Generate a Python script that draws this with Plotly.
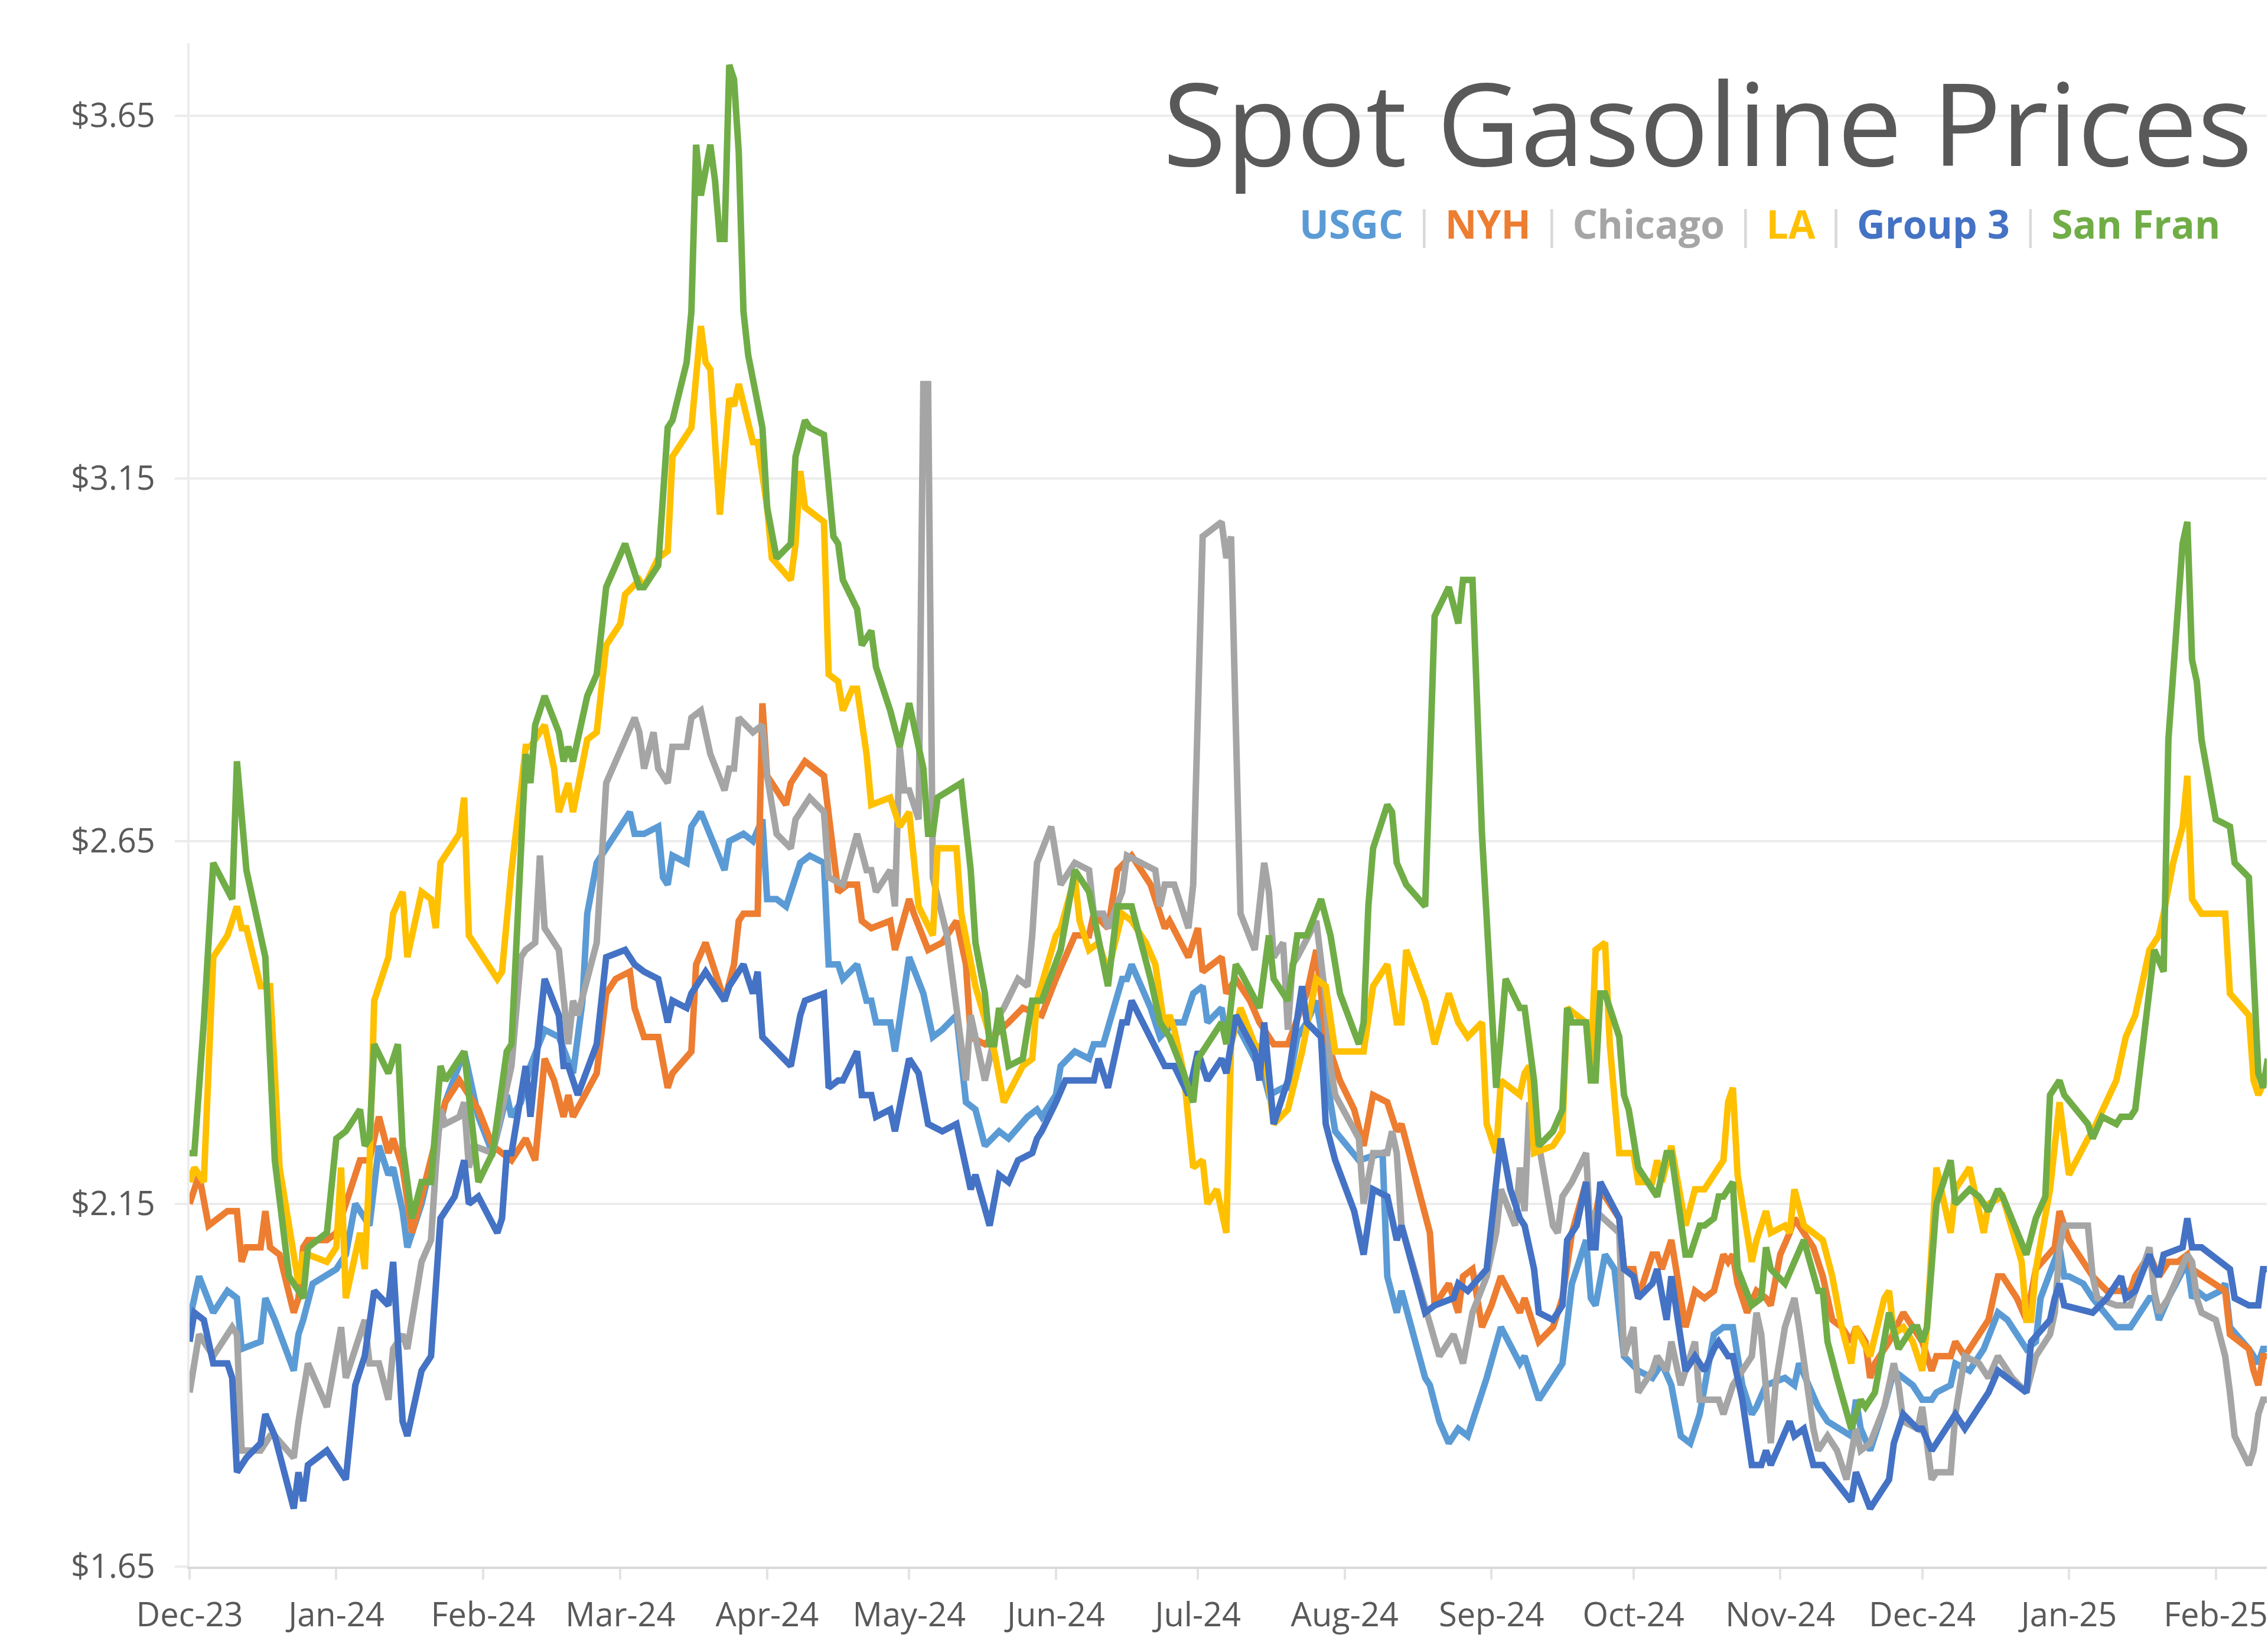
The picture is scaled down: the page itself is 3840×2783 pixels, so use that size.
import pandas as pd
import plotly.graph_objects as go

START = "2023-12-01"

# ---- data: day offsets from START and spot prices ($/gal) ----
usgc_days = [0,2,5,8,10,11,15,16,18,22,23,24,26,31,33,35,38,40,42,43,45,46,49,51,54,58,61,64,67,68,70,72,75,78,81,83,84,86,88,93,94,96,99,100,101,102,105,106,108,113,114,117,119,121,122,124,126,129,131,134,135,137,138,141,143,144,145,148,149,152,155,157,159,162,164,166,168,171,173,177,179,180,183,184,187,190,191,193,197,198,199,203,205,208,210,212,214,215,218,219,221,225,226,228,231,232,234,236,238,240,241,242,247,252,253,255,256,261,262,264,266,268,270,272,274,277,281,282,285,290,292,295,296,297,299,301,303,306,309,311,313,315,317,319,322,324,326,328,330,331,333,337,339,340,344,346,351,352,353,355,358,360,362,364,366,368,369,372,373,376,379,382,384,388,390,391,395,396,397,400,402,407,410,414,415,416,418,422,423,424,426,429,430,431,435,437,438,439]
usgc = [1.99,2.05,2.00,2.03,2.02,1.95,1.96,2.02,1.99,1.92,1.97,1.99,2.04,2.06,2.08,2.15,2.12,2.23,2.19,2.20,2.14,2.09,2.15,2.21,2.29,2.36,2.27,2.22,2.30,2.27,2.29,2.34,2.39,2.38,2.33,2.43,2.55,2.62,2.64,2.69,2.66,2.66,2.67,2.60,2.59,2.63,2.62,2.67,2.69,2.61,2.65,2.66,2.65,2.68,2.57,2.57,2.56,2.62,2.63,2.62,2.48,2.48,2.46,2.48,2.43,2.43,2.40,2.40,2.36,2.49,2.44,2.38,2.39,2.41,2.29,2.28,2.23,2.25,2.24,2.27,2.28,2.27,2.30,2.34,2.36,2.35,2.37,2.37,2.46,2.46,2.48,2.42,2.38,2.40,2.40,2.44,2.45,2.40,2.42,2.38,2.40,2.35,2.35,2.30,2.31,2.31,2.38,2.40,2.43,2.35,2.29,2.25,2.21,2.22,2.05,2.00,2.03,1.91,1.90,1.85,1.82,1.84,1.83,1.87,1.91,1.98,1.93,1.94,1.88,1.93,2.04,2.10,2.02,2.01,2.08,2.06,1.94,1.92,1.91,1.93,1.90,1.83,1.82,1.86,1.97,1.98,1.98,1.90,1.86,1.87,1.90,1.91,1.90,1.93,1.87,1.85,1.83,1.88,1.84,1.81,1.87,1.92,1.91,1.90,1.88,1.88,1.89,1.90,1.93,1.92,1.95,2.00,1.99,1.95,1.96,2.02,2.09,2.05,2.05,2.04,2.02,1.98,1.98,2.02,2.02,1.99,2.02,2.07,2.02,2.03,2.02,2.03,2.04,1.98,1.95,1.93,1.95,1.95]

nyh_days = [0,2,4,8,10,11,12,15,16,17,19,22,23,24,25,29,31,33,36,38,40,42,43,45,47,49,51,54,57,61,64,68,71,73,75,77,79,80,81,86,88,90,93,94,96,99,101,102,106,107,109,113,115,116,117,120,121,122,123,126,127,130,134,135,137,139,141,142,144,148,149,152,153,156,159,162,164,165,168,173,176,180,183,187,190,191,194,196,199,203,205,206,207,211,213,214,218,219,221,224,226,229,232,236,238,240,243,246,248,250,253,255,256,262,263,266,268,269,271,273,275,277,281,282,285,288,290,292,295,296,298,302,303,305,306,309,310,311,313,316,318,320,322,324,325,326,327,329,331,333,334,336,338,339,341,343,345,347,349,351,352,354,355,356,359,362,364,366,368,369,372,373,375,376,378,380,382,383,386,388,390,394,395,396,397,400,402,405,410,411,414,416,418,420,422,423,430,431,435,436,437,438,439]
nyh = [2.15,2.19,2.12,2.14,2.14,2.07,2.09,2.09,2.14,2.09,2.08,2.00,2.02,2.09,2.10,2.10,2.11,2.15,2.21,2.21,2.27,2.22,2.24,2.20,2.11,2.16,2.21,2.29,2.32,2.28,2.23,2.21,2.24,2.21,2.35,2.32,2.27,2.30,2.27,2.33,2.44,2.46,2.47,2.42,2.38,2.38,2.31,2.33,2.36,2.48,2.51,2.43,2.48,2.54,2.55,2.55,2.84,2.74,2.73,2.70,2.73,2.76,2.74,2.68,2.58,2.59,2.59,2.54,2.53,2.54,2.50,2.57,2.55,2.50,2.51,2.54,2.48,2.38,2.37,2.40,2.42,2.41,2.46,2.52,2.52,2.55,2.53,2.61,2.63,2.59,2.55,2.53,2.54,2.49,2.53,2.47,2.49,2.44,2.46,2.43,2.40,2.37,2.37,2.44,2.50,2.38,2.32,2.28,2.23,2.30,2.29,2.25,2.26,2.11,2.01,2.04,2.00,2.05,2.06,1.98,2.01,2.05,2.00,2.02,1.96,1.98,2.02,2.11,2.18,2.10,2.17,2.13,2.06,2.06,2.02,2.08,2.08,2.06,2.10,1.98,2.03,2.02,2.03,2.08,2.07,2.08,2.04,2.00,2.03,2.02,2.01,2.08,2.11,2.13,2.11,2.09,2.05,1.99,1.98,1.96,1.98,1.96,1.91,1.93,1.96,2.00,1.98,1.96,1.92,1.94,1.94,1.96,1.94,1.95,1.97,1.99,2.05,2.05,2.02,1.99,2.06,2.09,2.14,2.12,2.10,2.07,2.05,2.03,2.03,2.05,2.08,2.05,2.07,2.07,2.08,2.06,2.03,1.97,1.95,1.92,1.90,1.94,1.94]

chicago_days = [0,2,5,9,10,11,15,17,18,22,23,25,29,32,33,37,38,40,42,43,45,46,49,51,52,53,54,57,58,59,60,64,68,70,71,73,74,75,78,80,81,82,84,86,88,92,93,94,95,96,98,99,101,102,105,106,108,110,113,114,115,116,119,121,122,124,127,128,130,131,134,135,138,141,143,144,145,148,149,150,151,152,154,155,156,157,160,162,164,165,168,171,172,175,177,178,179,182,184,187,190,191,193,194,197,198,204,205,206,208,211,212,213,214,218,219,220,222,225,227,228,229,231,232,233,234,238,240,241,242,247,248,250,253,254,255,256,261,264,267,269,271,274,276,277,280,281,282,283,284,288,289,290,292,295,296,297,302,303,305,306,309,310,312,313,315,318,319,322,323,324,326,327,330,331,332,334,335,337,339,340,343,344,346,348,350,352,353,355,358,360,361,362,365,366,368,369,372,373,375,378,379,380,382,385,388,390,393,394,395,396,397,401,402,403,407,410,414,415,416,418,422,423,424,425,428,430,431,432,435,436,437,438,439]
chicago = [1.89,1.97,1.94,1.98,1.97,1.81,1.81,1.83,1.83,1.80,1.85,1.93,1.87,1.98,1.91,1.99,1.93,1.93,1.88,1.95,1.97,1.95,2.07,2.10,2.20,2.28,2.26,2.27,2.29,2.20,2.23,2.22,2.34,2.49,2.50,2.51,2.63,2.53,2.50,2.37,2.43,2.41,2.46,2.51,2.73,2.79,2.81,2.82,2.80,2.75,2.80,2.75,2.73,2.78,2.78,2.82,2.83,2.77,2.72,2.75,2.75,2.82,2.80,2.81,2.74,2.66,2.64,2.68,2.70,2.71,2.69,2.60,2.59,2.66,2.61,2.61,2.58,2.61,2.56,2.78,2.72,2.72,2.68,3.28,3.28,2.60,2.52,2.42,2.32,2.41,2.32,2.41,2.42,2.46,2.45,2.52,2.62,2.67,2.59,2.62,2.61,2.55,2.55,2.53,2.58,2.63,2.61,2.56,2.59,2.59,2.53,2.59,2.80,3.07,3.09,3.04,3.07,2.55,2.50,2.62,2.58,2.49,2.51,2.39,2.48,2.49,2.54,2.43,2.34,2.30,2.24,2.15,2.22,2.22,2.25,2.22,2.12,2.01,1.94,1.97,1.93,2.00,2.05,2.11,2.17,2.12,2.20,2.14,2.29,2.27,2.12,2.11,2.16,2.18,2.22,2.10,2.14,2.11,1.94,1.98,1.89,1.92,1.94,1.92,1.96,1.90,1.96,1.88,1.88,1.88,1.86,1.90,1.91,1.94,2.00,1.97,1.82,1.90,1.98,2.02,1.98,1.84,1.81,1.83,1.81,1.77,1.84,1.81,1.82,1.87,1.93,1.90,1.85,1.84,1.87,1.77,1.78,1.78,1.86,1.94,1.93,1.92,1.91,1.94,1.91,1.89,1.94,1.97,2.00,2.09,2.12,2.12,2.12,2.05,2.02,2.01,2.01,2.09,2.03,2.00,2.02,2.08,2.07,2.02,2.00,1.99,1.94,1.89,1.83,1.79,1.81,1.86,1.88,1.88]

la_days = [0,1,3,5,8,10,11,12,15,17,18,19,23,24,25,29,31,32,33,36,37,38,39,42,43,45,46,49,51,52,53,54,57,58,59,60,65,66,68,70,71,72,75,77,78,80,81,84,86,88,91,92,95,96,99,101,102,106,107,108,109,110,112,114,115,116,119,120,122,123,127,128,129,130,134,135,137,138,140,141,143,144,148,150,152,154,157,158,162,163,166,170,172,176,178,179,183,184,187,188,190,192,194,197,199,202,204,206,207,208,210,212,214,215,217,219,220,222,225,227,229,232,235,238,240,241,242,246,248,250,253,255,256,257,261,263,266,268,270,273,274,276,277,281,282,283,284,288,290,291,295,296,297,299,300,302,305,306,309,310,311,313,316,318,320,322,324,325,326,327,330,331,333,334,337,338,339,341,345,347,349,351,352,355,358,359,360,362,364,366,367,369,372,373,376,379,380,383,387,388,389,390,393,395,397,401,402,407,409,411,414,415,416,417,419,421,422,423,424,425,430,431,435,436,437,439]
la = [2.18,2.20,2.18,2.49,2.52,2.56,2.53,2.53,2.45,2.45,2.33,2.20,2.04,2.08,2.08,2.07,2.09,2.20,2.02,2.11,2.06,2.20,2.43,2.49,2.55,2.58,2.49,2.58,2.57,2.53,2.62,2.63,2.66,2.71,2.52,2.51,2.46,2.47,2.61,2.72,2.78,2.78,2.81,2.75,2.69,2.73,2.69,2.79,2.80,2.92,2.95,2.99,3.01,3.00,3.04,3.05,3.18,3.22,3.28,3.36,3.31,3.30,3.10,3.26,3.25,3.28,3.20,3.20,3.11,3.04,3.01,3.06,3.16,3.11,3.09,2.88,2.87,2.83,2.86,2.86,2.77,2.70,2.71,2.67,2.69,2.56,2.52,2.64,2.64,2.55,2.45,2.36,2.29,2.34,2.35,2.43,2.52,2.53,2.60,2.54,2.50,2.51,2.47,2.55,2.54,2.51,2.48,2.39,2.41,2.39,2.33,2.20,2.21,2.15,2.17,2.11,2.37,2.42,2.37,2.36,2.26,2.28,2.36,2.46,2.45,2.40,2.36,2.36,2.36,2.45,2.48,2.40,2.40,2.50,2.43,2.37,2.44,2.40,2.38,2.40,2.26,2.22,2.32,2.30,2.33,2.34,2.22,2.23,2.25,2.42,2.40,2.33,2.50,2.51,2.37,2.22,2.22,2.18,2.18,2.21,2.18,2.23,2.12,2.17,2.17,2.19,2.21,2.29,2.31,2.19,2.07,2.10,2.14,2.11,2.12,2.11,2.17,2.12,2.10,2.05,1.98,1.93,1.98,1.94,2.02,2.03,1.97,1.98,1.96,1.92,1.98,2.20,2.11,2.17,2.20,2.11,2.15,2.16,2.07,1.99,1.99,2.06,2.17,2.29,2.19,2.24,2.25,2.32,2.38,2.41,2.50,2.51,2.52,2.55,2.62,2.67,2.74,2.57,2.56,2.55,2.55,2.44,2.41,2.32,2.30,2.33]

group3_days = [0,1,3,5,8,9,10,12,15,16,18,22,23,24,25,29,31,33,35,37,39,42,43,45,46,49,51,53,54,56,58,59,61,65,66,67,68,71,72,75,78,79,80,82,86,88,92,94,96,99,101,102,105,106,109,113,114,117,119,120,121,124,127,129,130,134,135,137,138,141,142,144,145,148,149,152,154,156,159,162,165,166,169,171,173,175,178,179,180,183,185,187,191,192,194,197,198,199,203,206,208,211,213,215,218,219,221,225,226,227,229,232,235,236,239,240,242,246,248,250,253,255,256,261,263,267,268,270,274,275,277,279,281,282,284,285,288,290,291,293,295,296,297,298,302,303,305,306,309,310,311,312,313,316,318,320,322,323,325,326,328,330,332,333,334,338,339,341,343,345,351,352,355,359,360,362,365,366,368,373,375,378,380,382,384,386,388,389,393,394,395,396,402,405,407,408,409,411,414,415,416,417,421,422,423,425,431,432,435,437,438,439]
group3 = [1.96,2.00,1.99,1.93,1.93,1.91,1.78,1.80,1.82,1.86,1.83,1.73,1.78,1.74,1.79,1.81,1.79,1.77,1.90,1.94,2.03,2.01,2.07,1.85,1.83,1.92,1.94,2.13,2.14,2.16,2.21,2.15,2.16,2.11,2.13,2.22,2.22,2.34,2.27,2.46,2.41,2.34,2.34,2.30,2.37,2.49,2.50,2.48,2.47,2.46,2.40,2.43,2.42,2.44,2.47,2.43,2.45,2.48,2.44,2.47,2.38,2.36,2.34,2.41,2.43,2.44,2.31,2.32,2.32,2.36,2.30,2.30,2.27,2.28,2.25,2.35,2.33,2.26,2.25,2.26,2.17,2.19,2.12,2.19,2.18,2.21,2.22,2.24,2.25,2.29,2.32,2.32,2.32,2.35,2.31,2.40,2.40,2.43,2.38,2.34,2.34,2.30,2.36,2.32,2.35,2.33,2.41,2.36,2.32,2.40,2.26,2.32,2.45,2.40,2.38,2.26,2.21,2.14,2.08,2.17,2.16,2.10,2.12,2.00,2.01,2.02,2.04,2.03,2.06,2.12,2.24,2.17,2.13,2.12,2.06,2.00,1.99,2.01,2.10,2.12,2.18,2.09,2.09,2.18,2.13,2.06,2.05,2.02,2.04,2.06,2.02,1.99,2.05,1.92,1.94,1.92,1.95,1.96,1.94,1.94,1.88,1.79,1.79,1.81,1.79,1.85,1.83,1.84,1.79,1.79,1.74,1.78,1.73,1.77,1.82,1.86,1.84,1.84,1.81,1.86,1.84,1.87,1.89,1.92,1.91,1.90,1.89,1.96,1.99,2.02,2.04,2.01,2.00,2.02,2.04,2.05,2.02,2.03,2.08,2.06,2.05,2.08,2.09,2.13,2.09,2.09,2.06,2.02,2.01,2.01,2.06,2.06]

sanfran_days = [0,1,3,5,9,10,12,16,18,21,24,25,29,31,33,36,37,38,39,42,44,45,47,49,51,53,54,56,58,61,64,67,68,71,72,73,75,78,79,80,81,84,86,88,92,93,95,96,99,101,102,105,106,107,108,110,111,112,113,114,115,116,117,118,120,121,122,124,127,128,130,131,134,136,137,138,141,142,144,145,148,150,152,154,155,156,157,158,163,165,166,168,169,170,171,173,176,178,180,184,185,187,190,191,192,194,196,199,203,205,207,210,212,213,215,218,219,221,222,226,228,229,232,234,236,239,241,242,243,247,248,249,250,253,254,255,257,261,263,266,268,269,271,273,276,277,278,281,282,284,285,288,290,291,292,295,296,297,298,299,302,303,304,306,310,312,313,316,317,319,320,322,323,324,326,327,330,332,333,334,337,341,344,345,346,348,351,353,354,356,359,361,364,365,366,367,369,372,373,376,378,380,382,383,388,390,392,393,395,396,401,402,404,407,408,410,411,415,417,418,421,422,423,424,425,428,431,432,435,437,438,439]
sanfran = [2.22,2.22,2.40,2.62,2.57,2.76,2.61,2.49,2.21,2.05,2.02,2.09,2.11,2.24,2.25,2.28,2.23,2.24,2.37,2.33,2.37,2.23,2.13,2.18,2.18,2.34,2.32,2.34,2.36,2.18,2.22,2.36,2.37,2.77,2.73,2.81,2.85,2.80,2.76,2.78,2.76,2.85,2.88,3.00,3.06,3.04,3.00,3.00,3.03,3.22,3.23,3.31,3.38,3.61,3.54,3.61,3.56,3.48,3.48,3.72,3.70,3.60,3.38,3.32,3.25,3.22,3.11,3.04,3.06,3.18,3.23,3.22,3.21,3.07,3.06,3.01,2.97,2.92,2.94,2.89,2.83,2.78,2.84,2.78,2.75,2.66,2.66,2.71,2.73,2.61,2.51,2.44,2.37,2.37,2.42,2.34,2.35,2.43,2.43,2.50,2.54,2.61,2.58,2.55,2.52,2.45,2.56,2.56,2.46,2.40,2.38,2.33,2.29,2.35,2.37,2.40,2.37,2.48,2.47,2.42,2.52,2.46,2.43,2.52,2.52,2.57,2.52,2.48,2.44,2.37,2.40,2.56,2.64,2.70,2.69,2.62,2.59,2.56,2.96,3.00,2.95,3.01,3.01,2.66,2.31,2.38,2.46,2.42,2.42,2.32,2.23,2.25,2.28,2.42,2.40,2.40,2.32,2.32,2.44,2.44,2.38,2.30,2.28,2.20,2.16,2.22,2.22,2.08,2.08,2.12,2.12,2.13,2.16,2.16,2.18,2.06,2.01,2.02,2.09,2.06,2.04,2.10,2.03,2.03,1.96,1.91,1.84,1.88,1.87,1.89,2.00,1.95,1.98,1.98,1.96,1.98,2.15,2.21,2.15,2.17,2.16,2.14,2.17,2.16,2.08,2.13,2.16,2.30,2.32,2.30,2.26,2.24,2.27,2.26,2.27,2.27,2.28,2.50,2.47,2.79,3.06,3.09,2.90,2.87,2.79,2.68,2.67,2.62,2.60,2.33,2.31,2.35]

series_names = ["USGC", "NYH", "Chicago", "LA", "Group 3", "San Fran"]
series_days = [usgc_days, nyh_days, chicago_days, la_days, group3_days, sanfran_days]
series_vals = [usgc, nyh, chicago, la, group3, sanfran]
series_colors = ["#5B9BD5", "#ED7D31", "#A5A5A5", "#FFC000", "#4472C4", "#70AD47"]

x_tick_dates = ["2023-12-01","2024-01-01","2024-02-01","2024-03-01","2024-04-01","2024-05-01",
                "2024-06-01","2024-07-01","2024-08-01","2024-09-01","2024-10-01","2024-11-01",
                "2024-12-01","2025-01-01","2025-02-01"]
x_tick_labels = ["Dec-23","Jan-24","Feb-24","Mar-24","Apr-24","May-24","Jun-24","Jul-24",
                 "Aug-24","Sep-24","Oct-24","Nov-24","Dec-24","Jan-25","Feb-25"]
y_tick_vals = [1.65, 2.15, 2.65, 3.15, 3.65]
y_tick_labels = ["$1.65", "$2.15", "$2.65", "$3.15", "$3.65"]

fig = go.Figure()
start = pd.Timestamp(START)
for name, d, v, c in zip(series_names, series_days, series_vals, series_colors):
    assert len(d) == len(v), name
    x = start + pd.to_timedelta(d, unit="D")
    fig.add_trace(go.Scatter(x=x, y=v, mode="lines", name=name,
                             line=dict(color=c, width=11), showlegend=False))

FONT = "Open Sans"
fig.update_layout(
    width=3840, height=2783,
    margin=dict(l=321, r=2, t=73, b=131, autoexpand=False),
    paper_bgcolor="white", plot_bgcolor="white",
    font=dict(family=FONT, color="#595959", size=56),
    showlegend=False,
)
fig.update_xaxes(
    type="date", range=["2023-12-01", "2025-02-11 19:00"],
    tickvals=x_tick_dates, ticktext=x_tick_labels,
    showgrid=False, zeroline=False,
    showline=True, linecolor="#d9d9d9", linewidth=4,
    ticks="outside", ticklen=18, tickwidth=4, tickcolor="#e3e3e3",
    ticklabelstandoff=12,
    tickfont=dict(family=FONT, size=56, color="#595959"),
)
fig.update_yaxes(
    range=[1.6499, 3.75],
    tickvals=y_tick_vals, ticktext=y_tick_labels,
    showgrid=True, gridcolor="#ececec", gridwidth=4, zeroline=False,
    showline=True, linecolor="#ececec", linewidth=4,
    ticks="outside", ticklen=21, tickwidth=4, tickcolor="#ececec",
    ticklabelstandoff=22,
    tickfont=dict(family=FONT, size=56, color="#595959"),
)

fig.add_annotation(text="Spot Gasoline Prices", xref="paper", yref="paper",
                   x=0.9935, y=0.9488, xanchor="right", yanchor="middle",
                   showarrow=False,
                   font=dict(family=FONT, size=195, color="#595959"))

sep = '<span style="color:#D9D9D9"> | </span>'
legend_text = sep.join(
    f'<span style="color:{c}"><b>{n}</b></span>' for n, c in zip(series_names, series_colors)
)
fig.add_annotation(text=legend_text, xref="paper", yref="paper",
                   x=0.978, y=0.8817, xanchor="right", yanchor="middle",
                   showarrow=False, font=dict(family=FONT, size=66))

fig.write_html("out.html", config={"displayModeBar": False},
               post_script="document.body.style.margin='0';document.body.style.overflow='hidden';")
